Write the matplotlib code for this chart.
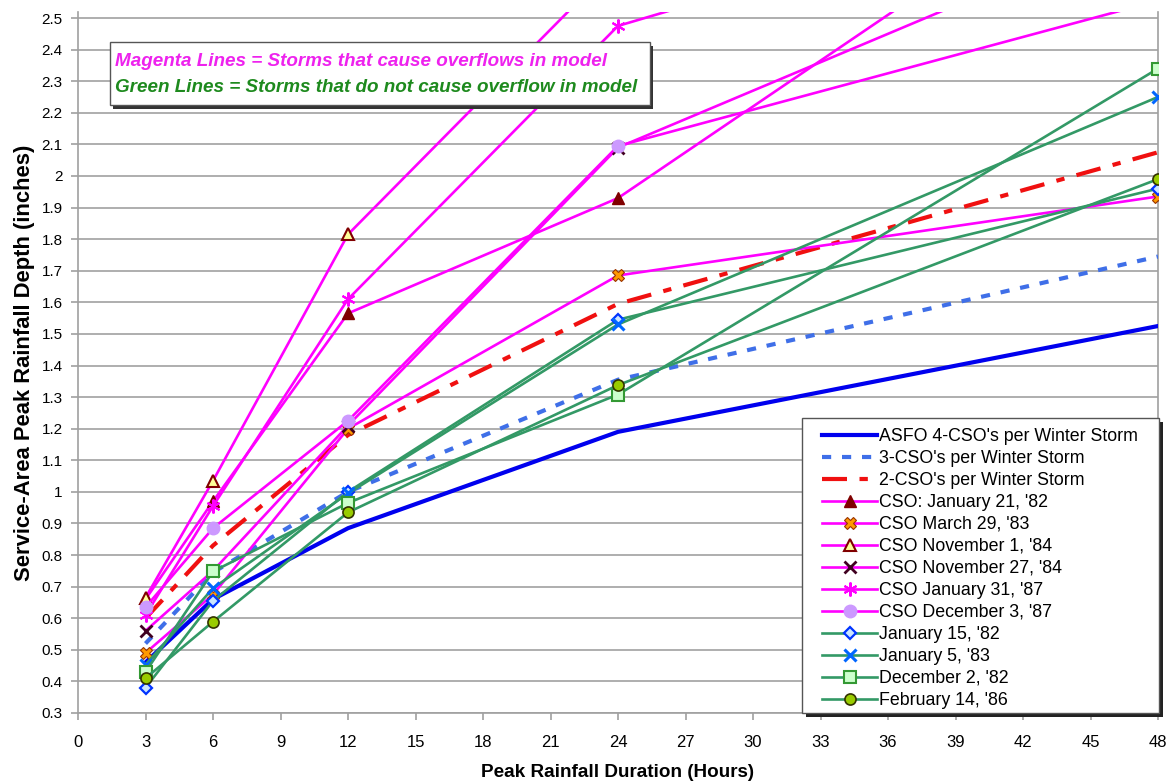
import matplotlib
matplotlib.use("Agg")
import matplotlib.pyplot as plt
from matplotlib.patches import Rectangle

# ---------------- data ----------------
durations = [3, 6, 12, 24, 48]
asfo_4cso = [0.46, 0.66, 0.885, 1.19, 1.525]
cso_3 = [0.52, 0.745, 1.00, 1.355, 1.745]
cso_2 = [0.60, 0.83, 1.18, 1.595, 2.075]
jan21_82 = [0.66, 0.97, 1.565, 1.93, 3.09]
mar29_83 = [0.49, 0.675, 1.20, 1.685, 1.935]
nov1_84 = [0.665, 1.035, 1.815, 2.68, 3.40]
nov27_84 = [0.56, 0.75, 1.21, 2.09, 2.81]
jan31_87 = [0.61, 0.955, 1.61, 2.475, 2.98]
dec3_87 = [0.635, 0.885, 1.225, 2.095, 2.555]
jan15_82 = [0.38, 0.655, 1.00, 1.545, 1.96]
jan5_83 = [0.453, 0.695, 0.995, 1.53, 2.25]
dec2_82 = [0.43, 0.748, 0.965, 1.308, 2.34]
feb14_86 = [0.41, 0.589, 0.935, 1.338, 1.99]

series_labels = ["ASFO 4-CSO's per Winter Storm", "3-CSO's per Winter Storm",
                 "2-CSO's per Winter Storm", "CSO: January 21, '82", "CSO March 29, '83",
                 "CSO November 1, '84", "CSO November 27, '84", "CSO January 31, '87",
                 "CSO December 3, '87", "January 15, '82", "January 5, '83",
                 "December 2, '82", "February 14, '86"]
x_ticks = list(range(0, 49, 3))
y_ticks = [round(0.3 + 0.1 * i, 1) for i in range(23)]
note_magenta = "Magenta Lines = Storms that cause overflows in model"
note_green = "Green Lines = Storms that do not cause overflow in model"
x_title = "Peak Rainfall Duration (Hours)"
y_title = "Service-Area Peak Rainfall Depth (inches)"

# ---------------- figure ----------------
plt.rcParams['font.family'] = ['Liberation Sans', 'DejaVu Sans']
W, H = 1172, 784
fig = plt.figure(figsize=(W / 100, H / 100), dpi=100)
ax = fig.add_axes([78 / W, 1 - 713 / H, 1080 / W, 701.3 / H])

MAG = '#FF00FF'
GRN = '#339966'

ax.plot(durations, asfo_4cso, color='#0000EE', lw=3.0, label=series_labels[0], zorder=3)
ax.plot(durations, cso_3, color='#3F6FE8', lw=3.0, dashes=(2.2, 2.6), label=series_labels[1], zorder=3)
ax.plot(durations, cso_2, color='#F01010', lw=3.0, dashes=(6, 3, 2, 3), label=series_labels[2], zorder=3)

mlw = 1.9
ax.plot(durations, jan21_82, color=MAG, lw=mlw, marker='^', ms=8, mfc='#800000', mec='#800000',
        label=series_labels[3], zorder=4)
ax.plot(durations, mar29_83, color=MAG, lw=mlw, marker='X', ms=9, mfc='#FF9900', mec='#993300', mew=0.8,
        label=series_labels[4], zorder=4)
ax.plot(durations, nov1_84, color=MAG, lw=mlw, marker='^', ms=8, mfc='#FFFF99', mec='#800000', mew=1.5,
        label=series_labels[5], zorder=4)
ax.plot(durations, nov27_84, color=MAG, lw=mlw, marker='x', ms=8, mec='#400020', mew=2.0,
        label=series_labels[6], zorder=4)
ax.plot(durations, jan31_87, color=MAG, lw=mlw, marker=(6, 2, 0), ms=10, mec=MAG, mew=1.5,
        label=series_labels[7], zorder=4)
ax.plot(durations, dec3_87, color=MAG, lw=mlw, marker='o', ms=9, mfc='#CC99FF', mec='#CC99FF',
        label=series_labels[8], zorder=4)

ax.plot(durations, jan15_82, color=GRN, lw=mlw, marker='D', ms=6.5, mfc='#CCE6FF', mec='#0033FF', mew=1.6,
        label=series_labels[9], zorder=5)
ax.plot(durations, jan5_83, color=GRN, lw=mlw, marker='x', ms=8, mec='#0066FF', mew=2.2,
        label=series_labels[10], zorder=5)
ax.plot(durations, dec2_82, color=GRN, lw=mlw, marker='s', ms=8, mfc='#CCFFCC', mec='#339933', mew=1.5,
        label=series_labels[11], zorder=5)
ax.plot(durations, feb14_86, color=GRN, lw=mlw, marker='o', ms=8, mfc='#99CC00', mec='#333300', mew=1.2,
        label=series_labels[12], zorder=5)

# axes styling
ax.set_xlim(0, 48)
ax.set_ylim(0.3, 2.52)
ax.set_xticks(x_ticks)
ax.set_xticklabels([str(v) for v in x_ticks], fontsize=12)
ax.set_yticks(y_ticks)
ax.set_yticklabels([('%g' % v) for v in y_ticks], fontsize=11)
ax.yaxis.grid(True, color='#A8A8A8', lw=1.3)
ax.set_axisbelow(True)
for s in ['left', 'bottom', 'right']:
    ax.spines[s].set_color('#A0A0A0')
    ax.spines[s].set_linewidth(1.2)
ax.spines['top'].set_visible(False)
ax.tick_params(axis='both', direction='out', length=5, color='#A0A0A0', width=1.2)
ax.tick_params(axis='x', pad=11)
ax.tick_params(axis='y', pad=6)

ax.set_xlabel(x_title, fontsize=13.6, fontweight='bold', labelpad=10)
ax.set_ylabel(y_title, fontsize=15.8, fontweight='bold', labelpad=5)

# legend (frame drawn separately to match the boxed look)
leg = ax.legend(loc='upper left', bbox_to_anchor=(822 / W, 1 - 428 / H), bbox_transform=fig.transFigure,
                borderaxespad=0.0, borderpad=0.0, fontsize=12.8, frameon=False,
                handlelength=3.1, handletextpad=0.12, labelspacing=0.28)
leg.set_zorder(12)
lx0, ly0, lw_, lh_ = 802 / W, 1 - 713 / H, 357 / W, 295 / H
ax.add_patch(Rectangle((lx0 + 4 / W, ly0 - 4 / H), lw_, lh_, transform=fig.transFigure,
                       facecolor='#222222', edgecolor='none', zorder=10, clip_on=False))
ax.add_patch(Rectangle((lx0, ly0), lw_, lh_, transform=fig.transFigure,
                       facecolor='white', edgecolor='#555555', lw=1.0, zorder=11, clip_on=False))

# annotation box
bx0, bx1 = (110 - 78) / 1080, (650 - 78) / 1080
by0, by1 = (713 - 105) / 701.3, (713 - 42) / 701.3
ax.add_patch(Rectangle((bx0 + 0.003, by0 - 0.005), bx1 - bx0, by1 - by0, transform=ax.transAxes,
                       facecolor='#333333', edgecolor='none', zorder=8))
ax.add_patch(Rectangle((bx0, by0), bx1 - bx0, by1 - by0, transform=ax.transAxes,
                       facecolor='white', edgecolor='#555555', lw=1.0, zorder=9))
ax.text(bx0 + 0.005, (713 - 61) / 701.3, note_magenta, transform=ax.transAxes, color='#EE22EE',
        fontsize=13.6, fontstyle='italic', fontweight='bold', va='center', ha='left', zorder=11)
ax.text(bx0 + 0.005, (713 - 87) / 701.3, note_green, transform=ax.transAxes, color='#1E8A1E',
        fontsize=13.6, fontstyle='italic', fontweight='bold', va='center', ha='left', zorder=11)

fig.savefig('out.png', dpi=100)
